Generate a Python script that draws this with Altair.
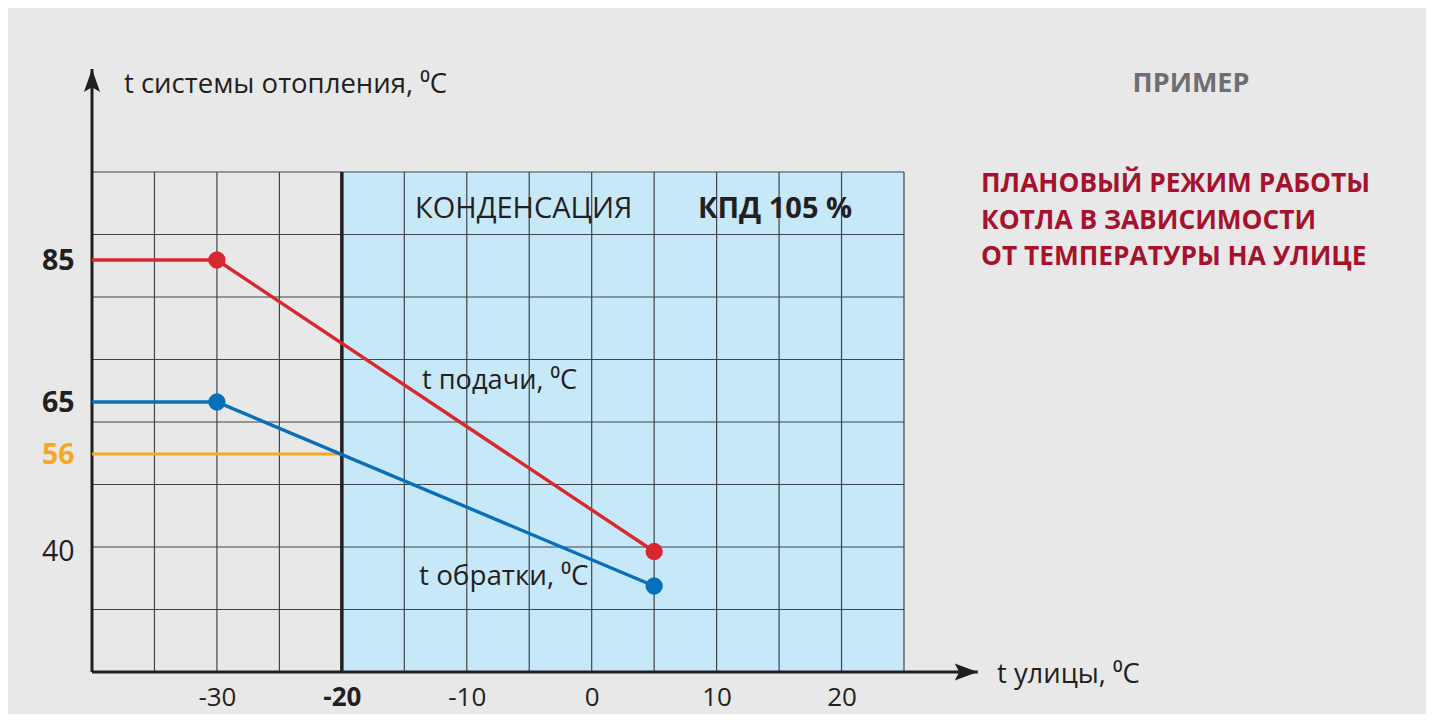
import altair as alt
import pandas as pd

# ---------------- data ----------------
outdoor_knots = [-40, -30, 5]          # outdoor temperature, °C
supply_temp = [85, 85, 40]             # t подачи
return_temp = [65, 65, 35]             # t обратки
design_x = [-40, -20]                  # design return temperature line
design_temp = [56, 56]
condensation_zone = [-20, 25]          # outdoor range with condensation
grid_x = [-35, -30, -25, -20, -15, -10, -5, 0, 5, 10, 15, 20, 25]
grid_rows = [1, 2, 3, 4, 5, 6, 7, 8]
x_tick_labels = [-30, -20, -10, 0, 10, 20]
y_tick_labels = [40, 56, 65, 85]
series_names = ["supply", "return"]

# ---------------- frames ----------------
curves = pd.DataFrame({
    "x": outdoor_knots * 2,
    "t": supply_temp + return_temp,
    "s": [series_names[0]] * len(outdoor_knots) + [series_names[1]] * len(outdoor_knots),
})
design = pd.DataFrame({"x": design_x, "t": design_temp})
zone = pd.DataFrame({"x0": [condensation_zone[0]], "x1": [condensation_zone[1]]})
gx = pd.DataFrame({"gx": grid_x})
rows = pd.DataFrame({"row": grid_rows})
X_TIP = 30.9      # arrow tip of the outdoor axis (data units)
ROW_TIP = 9.65    # arrow tip of the temperature axis (grid rows)
axis_v = pd.DataFrame({"x": [outdoor_knots[0]], "r0": [0], "r1": [ROW_TIP]})
axis_h = pd.DataFrame({"x0": [outdoor_knots[0]], "x1": [X_TIP], "r": [0]})
one = pd.DataFrame({"k": [0]})

FONT = "Open Sans"
INK = "#231f20"
GRID = "#3f4549"

x_scale = alt.Scale(domain=[-40, 25], nice=False, zero=False)
row_scale = alt.Scale(domain=[0, 8], nice=False, zero=False)
t_scale = alt.Scale(domain=[35, 40, 56, 65, 85], range=[414, 379.5, 282, 230, 88],
                    nice=False, zero=False)

x_axis = alt.Axis(
    values=x_tick_labels, grid=False, domain=False, ticks=False, title=None,
    labelExpr="'' + datum.value",
    labelFont=FONT, labelFontSize=26, labelColor=INK, labelPadding=12,
    labelFontWeight={"condition": {"test": "datum.value == -20", "value": "bold"}, "value": "normal"},
)
t_axis = alt.Axis(
    values=y_tick_labels, orient="left", grid=False, domain=False, ticks=False, title=None,
    labelFont=FONT, labelFontSize=28.5, labelPadding=18,
    labelColor={"condition": {"test": "datum.value == 56", "value": "#f7a823"}, "value": INK},
    labelFontWeight={"condition": {"test": "datum.value == 40", "value": "normal"}, "value": "bold"},
)


def X(f):
    return alt.X(f, type="quantitative", scale=x_scale, axis=x_axis)


def R(f):
    return alt.Y(f, type="quantitative", scale=row_scale, axis=None)


def T(f):
    return alt.Y(f, type="quantitative", scale=t_scale, axis=t_axis)


# ---------------- grid / frame layer ----------------
zone_rect = alt.Chart(zone).mark_rect(color="#c6e8f8").encode(x=X("x0"), x2="x1")
vgrid = alt.Chart(gx).mark_rule(color=GRID, strokeWidth=1.2).encode(x=X("gx"))
hgrid = alt.Chart(rows).mark_rule(color=GRID, strokeWidth=1.2).encode(y=R("row"))
divider = alt.Chart(zone).mark_rule(color=INK, strokeWidth=3.5).encode(x=X("x0"))
v_axis_line = alt.Chart(axis_v).mark_rule(color=INK, strokeWidth=3).encode(
    x=X("x"), y=R("r0"), y2="r1")
h_axis_line = alt.Chart(axis_h).mark_rule(color=INK, strokeWidth=3).encode(
    x=X("x0"), x2="x1", y=R("r"))
arrow_up = alt.Chart(axis_v).mark_point(
    shape="M0,0L-0.7,2L0,1.6L0.7,2Z", size=529, filled=True, opacity=1, color=INK, strokeWidth=0
).encode(x=X("x"), y=R("r1"))
arrow_right = alt.Chart(axis_h).mark_point(
    shape="M0,0L-2,-0.74L-1.6,0L-2,0.74Z", size=529, filled=True, opacity=1, color=INK, strokeWidth=0
).encode(x=X("x1"), y=R("r"))

frame = alt.layer(zone_rect, vgrid, hgrid, divider, v_axis_line, h_axis_line, arrow_up, arrow_right)

# ---------------- temperature layer ----------------
color = alt.Color("s:N", scale=alt.Scale(domain=series_names, range=["#d7282f", "#0a6fba"]), legend=None)
design_line = alt.Chart(design).mark_line(color="#f7a823", strokeWidth=3.2).encode(x=X("x"), y=T("t"))
curve_lines = alt.Chart(curves).mark_line(strokeWidth=3.4).encode(x=X("x"), y=T("t"), color=color, detail="s:N")
curve_pts = alt.Chart(curves).transform_filter("datum.x > -40").mark_circle(size=300, opacity=1).encode(
    x=X("x"), y=T("t"), color=color)


def label(text, x, y, size, weight="normal", color=INK, align="left", line_height=None):
    kw = dict(text=text, align=align, baseline="alphabetic", fontSize=size, fontWeight=weight,
              color=color, font=FONT)
    if line_height:
        kw["lineHeight"] = line_height
    return alt.Chart(one).mark_text(**kw).encode(x=alt.value(x), y=alt.value(y))


texts = [
    label("t системы отопления, ⁰C", 32, -79, 27.5),
    label("ПРИМЕР", 1099, -80, 27, weight="bold", color="#6d6e70", align="center"),
    label(["ПЛАНОВЫЙ РЕЖИМ РАБОТЫ", "КОТЛА В ЗАВИСИМОСТИ", "ОТ ТЕМПЕРАТУРЫ НА УЛИЦЕ"],
          889, 20, 26.3, weight="bold", color="#a6122d", line_height=36.7),
    label("КОНДЕНСАЦИЯ", 323, 46, 29),
    label("КПД 105 %", 606, 46, 29, weight="bold"),
    label("t подачи, ⁰C", 330, 217, 27.2),
    label("t обратки, ⁰C", 327, 413, 27.8),
    label("t улицы, ⁰C", 905, 511, 27.4),
]

temps = alt.layer(design_line, curve_lines, curve_pts, *texts)

chart = alt.layer(frame, temps).resolve_scale(y="independent").properties(
    width=812, height=500,
    padding={"left": 84, "top": 164, "right": 522, "bottom": 42},
    autosize=alt.AutoSizeParams(type="none"),
).configure(background="#e8e8e8").configure_view(stroke=None)

chart.save("out.html", embed_options={"renderer": "svg", "actions": False})
